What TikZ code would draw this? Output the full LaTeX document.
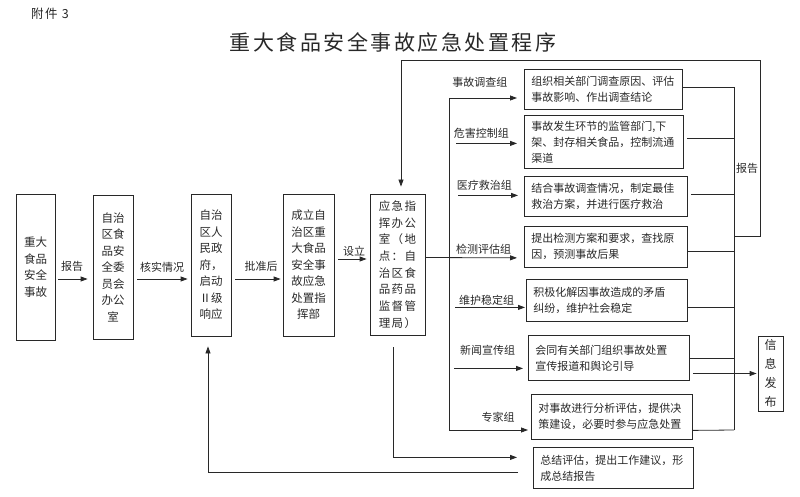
\documentclass[tikz,border=0pt]{standalone}
\usepackage{fontspec}
\setmainfont{Noto Sans CJK SC}
\newfontfamily\spacedfont[LetterSpace=12]{Noto Sans CJK SC}
\usepackage{xcolor}
\usetikzlibrary{arrows.meta, positioning, calc}
\definecolor{inkgray}{RGB}{40,40,40}

\begin{document}
\begin{tikzpicture}[
    x=1pt, y=-1pt,
    color=inkgray,
    line width=0.8pt,
    box/.style={draw, align=center, inner sep=2pt, font=\fontsize{11.5}{16.5}\selectfont},
    rbox/.style={draw, anchor=north west, align=left, inner xsep=7pt, inner ysep=2pt, font=\fontsize{11}{16}\selectfont},
    lbl/.style={inner sep=1pt, font=\fontsize{11}{13}\selectfont},
    arrow/.style={-{Triangle[length=7pt, width=5pt]}}
]
    \useasboundingbox (0,0) rectangle (800,497);

    \node[font=\spacedfont\fontsize{12.5}{15}\selectfont] (annex) at (50,14) {附件 3};
    \node[font=\spacedfont\fontsize{21}{25}\selectfont] (title) at (393,42.5) {重大食品安全事故应急处置程序};

    \node[box, minimum width=39pt, minimum height=146pt] (acc) at (35.5,267) {重大\\食品\\安全\\事故};
    \node[box, minimum width=40pt, minimum height=144pt] (office) at (113,267) {自治\\区食\\品安\\全委\\员会\\办公\\室};
    \node[box, minimum width=40pt, minimum height=142pt] (gov) at (211,265) {自治\\区人\\民政\\府，\\启动\\Ⅱ级\\响应};
    \node[box, minimum width=51pt, minimum height=142pt] (hq) at (308.5,265) {成立自\\治区重\\大食品\\安全事\\故应急\\处置指\\挥部};
    \node[box, font=\spacedfont\fontsize{11.5}{16.7}\selectfont, minimum width=55pt, minimum height=141pt] (cmd) at (397.5,264.5) {应急指\\挥办公\\室（地\\点：自\\治区食\\品药品\\监督管\\理局）};

    \node[rbox, text width=144pt, minimum height=40pt] (inv) at (524,69) {组织相关部门调查原因、评估\\事故影响、作出调查结论};
    \node[rbox, text width=145pt, minimum height=53pt] (ctrl) at (524,115) {事故发生环节的监管部门,下\\架、封存相关食品，控制流通\\渠道};
    \node[rbox, text width=149pt, minimum height=40pt] (med) at (524,176) {结合事故调查情况，制定最佳\\救治方案，并进行医疗救治};
    \node[rbox, text width=149pt, minimum height=41pt] (test) at (524,226) {提出检测方案和要求，查找原\\因，预测事故后果};
    \node[rbox, text width=147pt, minimum height=42pt] (stab) at (526,279) {积极化解因事故造成的矛盾\\纠纷，维护社会稳定};
    \node[rbox, text width=147pt, minimum height=45pt] (news) at (528,335) {会同有关部门组织事故处置\\宣传报道和舆论引导};
    \node[rbox, text width=147pt, minimum height=45pt] (expert) at (531,394) {对事故进行分析评估，提供决\\策建设，必要时参与应急处置};
    \node[rbox, text width=146pt, minimum height=41pt] (summ) at (533,447) {总结评估，提出工作建议，形\\成总结报告};

    \node[box, font=\fontsize{12}{19}\selectfont, minimum width=25pt, minimum height=75pt, inner sep=1pt] (info) at (770.5,373.5) {信\\息\\发\\布};

    \draw[arrow, shorten <=3pt, shorten >=5pt] ($(acc.east)+(0,12)$) -- node[lbl, above=6pt, pos=0.45] (lreport) {报告} ($(office.west)+(0,12)$);
    \draw[arrow, shorten <=4pt, shorten >=3pt] ($(office.east)+(0,12)$) -- node[lbl, above=5pt, pos=0.5] (lcheck) {核实情况} ($(gov.west)+(0,14)$);
    \draw[arrow, shorten <=4pt, shorten >=2pt] ($(gov.east)+(0,14)$) -- node[lbl, above=6pt, pos=0.58] (lapprove) {批准后} ($(hq.west)+(0,14)$);
    \draw[arrow, shorten <=4pt, shorten >=3pt] ($(hq.east)+(0,-6)$) -- node[lbl, above=1pt, pos=0.56] (lset) {设立} ($(cmd.west)+(0,-5.5)$);

    \coordinate (trunktop) at (449,98);
    \coordinate (trunkbot) at (449,430);
    \draw (trunktop) -- (trunkbot);

    \draw[arrow, shorten >=7pt] (trunktop) -- node[lbl, above=9pt, pos=0.41] (linv) {事故调查组} (trunktop -| inv.west);
    \draw[arrow, shorten <=7pt, shorten >=7pt] ($(trunktop |- ctrl.west)+(0,1.5)$) -- node[lbl, above=4pt, pos=0.43] (lctrl) {危害控制组} ($(ctrl.west)+(0,1.5)$);
    \draw[arrow, shorten <=9pt, shorten >=6pt] ($(trunktop |- med.west)+(0,-1)$) -- node[lbl, above=4pt, pos=0.47] (lmed) {医疗救治组} ($(med.west)+(0,-1)$);
    \draw[arrow, shorten >=7pt] ($(cmd.east)+(0,-7)$) -- node[lbl, above=1.5pt, pos=0.59] (ltest) {检测评估组} ($(test.west)+(0,11)$);
    \draw[arrow, shorten <=6pt, shorten >=1pt] ($(trunktop |- stab.west)+(0,7)$) -- node[lbl, above=1pt, pos=0.49] (lstab) {维护稳定组} ($(stab.west)+(0,7)$);
    \draw[arrow, shorten <=5pt, shorten >=5pt] ($(trunktop |- news.west)+(0,10.5)$) -- node[lbl, above=12pt, pos=0.49] (lnews) {新闻宣传组} ($(news.west)+(0,10.5)$);
    \draw[arrow, shorten >=3pt] (trunkbot) -- node[lbl, above=6pt, pos=0.6] (lexpert) {专家组} (trunkbot -| expert.west);

    \coordinate (colltop) at (734,87);
    \coordinate (collbot) at (734,430);
    \draw (colltop) -- (collbot);
    \draw ($(inv.east)+(0,-2)$) -- ($(inv.east -| colltop)+(0,-2)$);
    \draw[shorten <=3pt] ($(ctrl.east)+(0,-3.5)$) -- ($(ctrl.east -| colltop)+(0,-3.5)$);
    \draw[shorten <=3pt] ($(med.east)+(0,-2)$) -- ($(med.east -| colltop)+(0,-2)$);
    \draw ($(test.east)+(0,4.5)$) -- ($(test.east -| colltop)+(0,4.5)$);
    \draw ($(stab.east)+(0,7)$) -- ($(stab.east -| colltop)+(0,7)$);
    \draw ($(news.east)+(0,0.5)$) -- ($(news.east -| colltop)+(0,0.5)$);
    \draw ($(expert.east)+(0,13.5)$) -- (collbot);

    \coordinate (rep) at (734,236);
    \coordinate (looptop) at (760,60);
    \draw[arrow, shorten >=7pt] (rep) -| (looptop) -| ($(cmd.north)+(3.5,0)$);
    \node[lbl] (lreport2) at (747,168) {报告};

    \draw[arrow, shorten <=3pt, shorten >=1pt] (info.west -| news.east) -- (info.west);

    \draw[arrow, shorten <=12pt, shorten >=16pt] ($(cmd.south)+(-4.5,0)$) |- ($(summ.west)+(0,-10.5)$);
    \draw[arrow, shorten <=15pt, shorten >=10pt] ($(summ.west)+(0,4.5)$) -| ($(gov.south)+(-3,0)$);
\end{tikzpicture}
\end{document}
